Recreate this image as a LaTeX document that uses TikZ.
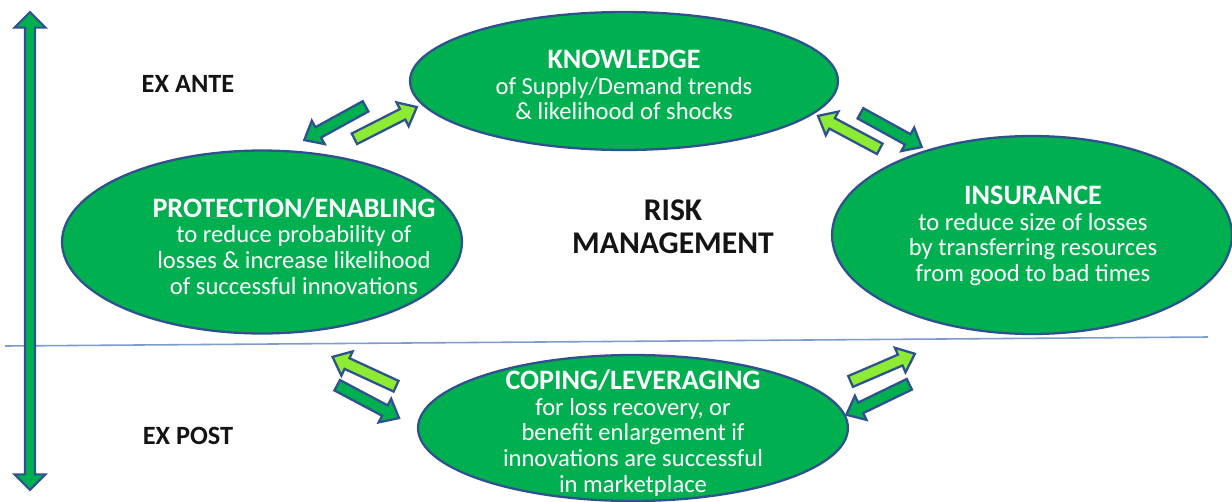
\documentclass[tikz,border=0pt]{standalone}
\usepackage{fontspec}
\setmainfont{Carlito}
\usetikzlibrary{positioning,shapes.geometric,shapes.arrows}
\definecolor{RiskGreen}{RGB}{0,176,80}
\definecolor{LightLime}{RGB}{140,235,50}
\definecolor{ShapeLine}{RGB}{47,82,143}
\definecolor{DividerBlue}{RGB}{125,155,205}
\definecolor{InkDark}{RGB}{20,20,20}
\tikzset{
  stage/.style={ellipse,draw=ShapeLine,line width=1.3pt,fill=RiskGreen,inner sep=0pt},
  stagetext/.style={align=center,text=white,font=\fontsize{14}{14.6}\selectfont},
  phase/.style={font=\fontsize{15}{18}\selectfont\bfseries,text=InkDark},
  timeline/.style={double arrow,draw=ShapeLine,line width=1.2pt,fill=RiskGreen,
    inner xsep=0pt,inner ysep=0.08cm,double arrow head extend=0.21cm},
  blockarrow/.style={single arrow,draw=ShapeLine,line width=1.3pt,minimum height=1.4cm,
    inner xsep=0pt,inner ysep=0.095cm,single arrow head extend=0.15cm,
    single arrow tip angle=80,midway,sloped,allow upside down},
  darkarrow/.style={blockarrow,fill=RiskGreen},
  limearrow/.style={blockarrow,fill=LightLime}
}
\newcommand{\stagetitle}[1]{{\fontsize{16}{14.6}\selectfont\bfseries #1}}

\begin{document}
\begin{tikzpicture}[x=0.02cm,y=-0.02cm]
  \useasboundingbox (0,0) rectangle (1232,501);

  % ex ante / ex post split and time axis
  \coordinate (split-l) at (5,346);
  \coordinate (split-r) at (1208,337);
  \draw[DividerBlue,line width=0.9pt] (split-l) -- (split-r);
  \node[timeline,rotate=90,minimum height=9.56cm] (horizon) at (30,251) {};
  \node[phase] (exante) at (188,84) {EX ANTE};
  \node[phase] (expost) at (188,436) {EX POST};

  % the four stages
  \node[stage,minimum width=8.56cm,minimum height=2.76cm] (know) at (624,81) {};
  \node[stage,minimum width=8cm,minimum height=3.66cm] (protect) at (262,242) {};
  \node[stage,minimum width=8cm,minimum height=3.96cm] (insure) at (1032,235) {};
  \node[stage,minimum width=8.6cm,minimum height=2.92cm] (cope) at (633,428) {};

  \node[stagetext] (know-txt) at (624,85) {\stagetitle{KNOWLEDGE}\\
    of Supply/Demand trends\\ \& likelihood of shocks};
  \node[stagetext] (protect-txt) at (294,246) {\stagetitle{PROTECTION/ENABLING}\\
    to reduce probability of\\ losses \& increase likelihood\\ of successful innovations};
  \node[stagetext] (insure-txt) at (1033,236) {\stagetitle{INSURANCE}\\
    to reduce size of losses\\ by transferring resources\\ from good to bad times};
  \node[stagetext] (cope-txt) at (633,433) {\stagetitle{COPING/LEVERAGING}\\
    for loss recovery, or\\ benefit enlargement if\\ innovations are successful\\ in marketplace};

  \node[align=center,text=InkDark,font=\fontsize{18}{19}\selectfont\bfseries] (risk) at (673,227)
    {RISK\\MANAGEMENT};

  % two-way arrows between neighbouring stages
  \coordinate (kp-a) at (368,105); \coordinate (kp-b) at (308,138);
  \coordinate (pk-a) at (352,140); \coordinate (pk-b) at (413,109);
  \coordinate (ik-a) at (882,150); \coordinate (ik-b) at (822,118);
  \coordinate (ki-a) at (858,112); \coordinate (ki-b) at (918,145);
  \coordinate (cp-a) at (400,388); \coordinate (cp-b) at (335,358);
  \coordinate (pc-a) at (333,383); \coordinate (pc-b) at (397,417);
  \coordinate (ci-a) at (847,383); \coordinate (ci-b) at (912,355);
  \coordinate (ic-a) at (912,383); \coordinate (ic-b) at (850,413);
  \path (kp-a) -- (kp-b) node[darkarrow] (kp) {};
  \path (pk-a) -- (pk-b) node[limearrow] (pk) {};
  \path (ik-a) -- (ik-b) node[limearrow] (ik) {};
  \path (ki-a) -- (ki-b) node[darkarrow] (ki) {};
  \path (cp-a) -- (cp-b) node[limearrow] (cp) {};
  \path (pc-a) -- (pc-b) node[darkarrow] (pc) {};
  \path (ci-a) -- (ci-b) node[limearrow] (ci) {};
  \path (ic-a) -- (ic-b) node[darkarrow] (ic) {};
\end{tikzpicture}
\end{document}
